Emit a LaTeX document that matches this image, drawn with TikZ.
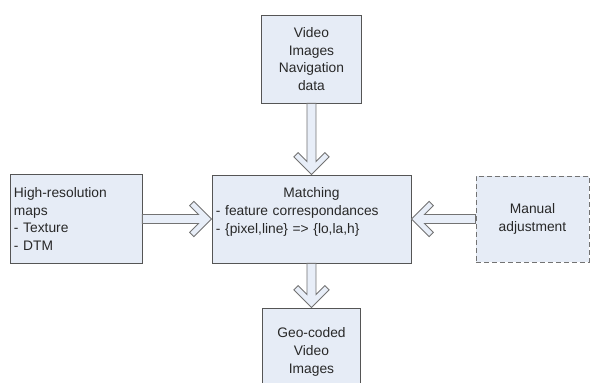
\documentclass[tikz,border=0pt]{standalone}
\usepackage{fontspec}
\setmainfont{Liberation Sans}
\usetikzlibrary{calc,positioning}

\definecolor{boxfill}{RGB}{230,236,246}
\definecolor{boxline}{RGB}{85,85,85}
\definecolor{arrowfill}{RGB}{232,238,248}
\definecolor{arrowline}{RGB}{115,115,115}
\definecolor{textgray}{RGB}{40,40,40}

% hollow block arrow from #1 to #2
\newcommand{\blockarrow}[2]{%
  \draw[blockarr]
    ($(#1)!4.5pt!90:(#2)$)
    -- ($(#2)!13pt!(#1)!4.5pt!90:(#2)$)
    -- ($(#2)!21.9pt!(#1)!13.4pt!90:(#2)$)
    -- ($(#2)!17.7pt!(#1)!17.7pt!90:(#2)$)
    -- (#2)
    -- ($(#2)!17.7pt!(#1)!17.7pt!-90:(#2)$)
    -- ($(#2)!21.9pt!(#1)!13.4pt!-90:(#2)$)
    -- ($(#2)!13pt!(#1)!4.5pt!-90:(#2)$)
    -- ($(#1)!4.5pt!-90:(#2)$)
    -- cycle;
}

\begin{document}
\begin{tikzpicture}[node distance=160pt, on grid,
    box/.style={draw=boxline, fill=boxfill, line width=0.9pt, text=textgray,
      font=\fontsize{13.8}{17.8}\selectfont, inner sep=4pt},
    blockarr/.style={draw=arrowline, fill=arrowfill, line width=0.9pt}]
    \useasboundingbox (-311.5pt,-164pt) rectangle (278.5pt,219pt);

    % boxes
    \node[box, minimum width=199pt, minimum height=88pt, text width=191pt,
      align=left, text depth=52pt] (match)
      {\makebox[\linewidth]{Matching}\\- feature correspondances\\- \{pixel,line\} => \{lo,la,h\}};
    \node[box, above=of match, minimum width=100pt, minimum height=88pt,
      align=center] (video) {Video\\Images\\Navigation\\data};
    \node[box, left=235.5pt of match, minimum width=132pt, minimum height=89pt,
      text width=124pt, align=left] (maps) {High-resolution\\maps\\- Texture\\- DTM};
    \node[box, draw=arrowline, dash pattern=on 5pt off 3pt, right=221pt of match,
      minimum width=113pt, minimum height=86pt, align=center] (manual) {Manual\\adjustment};
    \node[box, below=133pt of match, minimum width=98pt, minimum height=88pt,
      align=center] (geo) {Geo-coded\\Video\\Images};

    % arrows into and out of the matching step
    \blockarrow{video.south}{match.north}
    \blockarrow{maps.east}{match.west}
    \blockarrow{manual.west}{match.east}
    \blockarrow{match.south}{geo.north}
\end{tikzpicture}
\end{document}
